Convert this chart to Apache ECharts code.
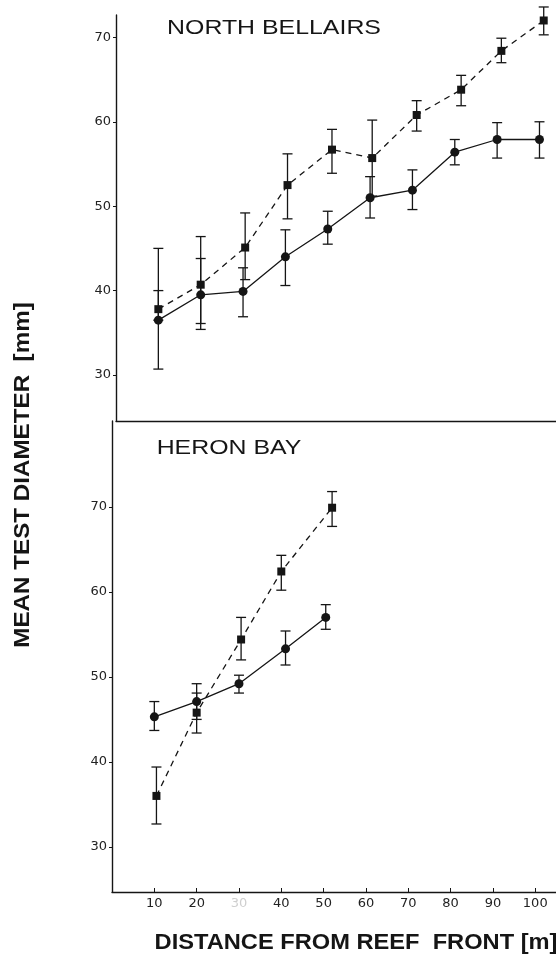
<!DOCTYPE html>
<html>
<head>
<meta charset="utf-8">
<script src="https://cdn.jsdelivr.net/npm/echarts@6/dist/echarts.min.js"></script>
<style>
  html, body { margin: 0; padding: 0; background: #fff; }
  #chart { width: 556px; height: 960px; }
</style>
</head>
<body>
<div id="chart"></div>
<script>
// tick labels
var xTicks = [10, 20, 30, 40, 50, 60, 70, 80, 90, 100];
var yTicks = [30, 40, 50, 60, 70];

// North Bellairs - circles (solid line)
var nbCircleX    = [10, 20, 30, 40, 50, 60, 70, 80, 90, 100];
var nbCircleMean = [36.5, 39.5, 39.9, 44.0, 47.3, 51.0, 51.9, 56.4, 57.9, 57.9];
var nbCircleLow  = [36.5, 36.1, 36.9, 40.6, 45.5, 48.6, 49.6, 54.9, 55.7, 55.7];
var nbCircleHigh = [40.0, 43.8, 42.7, 47.2, 49.4, 53.5, 54.3, 57.9, 59.9, 60.0];
// North Bellairs - squares (dashed line)
var nbSquareX    = [10, 20, 30.5, 40.5, 51, 60.5, 71, 81.5, 91, 101];
var nbSquareMean = [37.8, 40.7, 45.1, 52.5, 56.7, 55.7, 60.8, 63.8, 68.4, 72.0];
var nbSquareLow  = [30.7, 35.4, 41.3, 48.5, 53.9, 51.2, 58.9, 61.9, 67.0, 70.3];
var nbSquareHigh = [45.0, 46.4, 49.2, 56.2, 59.1, 60.2, 62.5, 65.5, 69.9, 73.6];

// Heron Bay - circles (solid line)
var hbCircleX    = [10, 20, 30, 41, 50.5];
var hbCircleMean = [45.3, 47.1, 49.2, 53.3, 57.0];
var hbCircleLow  = [43.7, 45.0, 48.1, 51.4, 55.6];
var hbCircleHigh = [47.1, 48.1, 50.2, 55.4, 58.5];
// Heron Bay - squares (dashed line)
var hbSquareX    = [10.5, 20, 30.5, 40, 52];
var hbSquareMean = [36.0, 45.8, 54.4, 62.4, 69.9];
var hbSquareLow  = [32.7, 43.4, 52.0, 60.2, 67.7];
var hbSquareHigh = [39.4, 49.2, 57.0, 64.3, 71.8];

var INK = '#151515';

function zip(xs, ys) {
  return xs.map(function (x, i) { return [x, ys[i]]; });
}
function zip3(xs, lo, hi) {
  return xs.map(function (x, i) { return [x, lo[i], hi[i]]; });
}

// vertical error bar with caps
function errorBar(params, api) {
  var x = api.value(0);
  var lo = api.coord([x, api.value(1)]);
  var hi = api.coord([x, api.value(2)]);
  var w = 5;
  var st = { stroke: INK, lineWidth: 1.3 };
  return {
    type: 'group',
    children: [
      { type: 'line', shape: { x1: lo[0], y1: lo[1], x2: hi[0], y2: hi[1] }, style: st },
      { type: 'line', shape: { x1: hi[0] - w, y1: hi[1], x2: hi[0] + w, y2: hi[1] }, style: st },
      { type: 'line', shape: { x1: lo[0] - w, y1: lo[1], x2: lo[0] + w, y2: lo[1] }, style: st }
    ]
  };
}

function lineSeries(idx, data, dashed, symbol, size) {
  return {
    type: 'line',
    xAxisIndex: idx,
    yAxisIndex: idx,
    data: data,
    symbol: symbol,
    symbolSize: size,
    itemStyle: { color: INK },
    lineStyle: { color: INK, width: 1.3, type: dashed ? [6, 5] : 'solid' },
    animation: false,
    z: 3
  };
}

function barSeries(idx, data) {
  return {
    type: 'custom',
    xAxisIndex: idx,
    yAxisIndex: idx,
    data: data,
    encode: { x: 0, y: [1, 2] },
    renderItem: errorBar,
    animation: false,
    z: 2
  };
}

var labelFont = { color: '#222', fontFamily: 'DejaVu Sans', fontSize: 13 };

function yAxis(idx, min, max) {
  return {
    type: 'value',
    gridIndex: idx,
    min: min,
    max: max,
    axisLine: { show: true, onZero: false, lineStyle: { color: INK, width: 1.4 } },
    axisTick: { show: true, length: 3, customValues: yTicks, lineStyle: { color: INK } },
    axisLabel: Object.assign({ margin: 5, customValues: yTicks }, labelFont),
    splitLine: { show: false }
  };
}

var chart = echarts.init(document.getElementById('chart'), null, { renderer: 'canvas' });

chart.setOption({
  backgroundColor: '#fff',
  animation: false,
  grid: [
    { left: 116, top: 15, width: 440, height: 406 },
    { left: 112, top: 421, width: 444, height: 471 }
  ],
  xAxis: [
    {
      type: 'value', gridIndex: 0, min: 0, max: 103.9,
      axisLine: { show: true, onZero: false, lineStyle: { color: INK, width: 1.4 } },
      axisTick: { show: false },
      axisLabel: { show: false },
      splitLine: { show: false }
    },
    {
      type: 'value', gridIndex: 1, min: 0, max: 104.9,
      axisLine: { show: true, onZero: false, lineStyle: { color: INK, width: 1.4 } },
      axisTick: { show: true, inside: true, length: 4, customValues: xTicks, lineStyle: { color: INK } },
      axisLabel: Object.assign({
        margin: 5,
        customValues: xTicks,
        formatter: function (v) { return v === 30 ? '{f|30}' : String(v); },
        rich: { f: { color: '#cfcfcf', fontFamily: 'DejaVu Sans', fontSize: 13 } }
      }, labelFont),
      splitLine: { show: false }
    }
  ],
  yAxis: [
    yAxis(0, 24.55, 72.65),
    yAxis(1, 24.7, 80.1)
  ],
  series: [
    barSeries(0, zip3(nbSquareX, nbSquareLow, nbSquareHigh)),
    barSeries(0, zip3(nbCircleX, nbCircleLow, nbCircleHigh)),
    lineSeries(0, zip(nbSquareX, nbSquareMean), true, 'rect', 8),
    lineSeries(0, zip(nbCircleX, nbCircleMean), false, 'circle', 9),
    barSeries(1, zip3(hbSquareX, hbSquareLow, hbSquareHigh)),
    barSeries(1, zip3(hbCircleX, hbCircleLow, hbCircleHigh)),
    lineSeries(1, zip(hbSquareX, hbSquareMean), true, 'rect', 8),
    lineSeries(1, zip(hbCircleX, hbCircleMean), false, 'circle', 9)
  ],
  graphic: [
    {
      type: 'text', x: 274, y: 28, scaleX: 1.185,
      style: { text: 'NORTH BELLAIRS', font: '21px "Liberation Sans", Arial, sans-serif', fill: INK, align: 'center', verticalAlign: 'middle' }
    },
    {
      type: 'text', x: 229, y: 448, scaleX: 1.185,
      style: { text: 'HERON BAY', font: '21px "Liberation Sans", Arial, sans-serif', fill: INK, align: 'center', verticalAlign: 'middle' }
    },
    {
      type: 'text', x: 356, y: 943, scaleX: 1.075,
      style: { text: 'DISTANCE FROM REEF  FRONT [m]', font: 'bold 22px "Liberation Sans", Arial, sans-serif', fill: INK, align: 'center', verticalAlign: 'middle' }
    },
    {
      type: 'text', x: 23, y: 475, rotation: Math.PI / 2, scaleX: 1.1,
      style: { text: 'MEAN TEST DIAMETER  [mm]', font: 'bold 22px "Liberation Sans", Arial, sans-serif', fill: INK, align: 'center', verticalAlign: 'middle' }
    }
  ]
});
</script>
</body>
</html>
